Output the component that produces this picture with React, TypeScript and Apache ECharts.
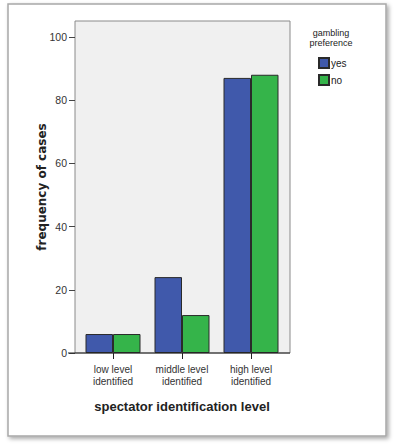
import React, { useEffect, useRef } from "react";
import * as echarts from "echarts";

const categories = ["low level\nidentified", "middle level\nidentified", "high level\nidentified"];
const yesValues = [6, 24, 87];
const noValues = [6, 12, 88];
const yTicks = [0, 20, 40, 60, 80, 100];
const seriesNames = ["yes", "no"];
const legendTitle = "gambling\npreference";
const xTitle = "spectator identification level";
const yTitle = "frequency of cases";

export default function App() {
  const ref = useRef<HTMLDivElement>(null);
  useEffect(() => {
    if (!ref.current) return;
    const chart = echarts.init(ref.current, null, { renderer: "svg" });
    const font = "'Liberation Sans Narrow', 'Liberation Sans', Arial, sans-serif";
    const option: any = {
      animation: false,
      backgroundColor: "#ffffff",
      textStyle: { fontFamily: font },
      graphic: [
        {
          type: "rect",
          z: -10,
          shape: { x: 8, y: 4, width: 378, height: 432 },
          style: {
            fill: "#ffffff",
            stroke: "#a8a8a8",
            lineWidth: 1.5,
            shadowBlur: 4,
            shadowOffsetX: 2,
            shadowOffsetY: 2,
            shadowColor: "rgba(0,0,0,0.35)",
          },
        },
        {
          type: "rect",
          z: -5,
          shape: { x: 75, y: 21, width: 215, height: 332 },
          style: { fill: "#f0f0f0", stroke: "#8a8a8a", lineWidth: 1 },
        },
        {
          type: "line",
          z: 10,
          shape: { x1: 68, y1: 353, x2: 290, y2: 353 },
          style: { stroke: "#222222", lineWidth: 1.2 },
        },
        {
          type: "text",
          x: 331,
          y: 28,
          style: {
            text: legendTitle,
            fontSize: 9,
            fontFamily: font,
            fill: "#222",
            align: "center",
            verticalAlign: "top",
            lineHeight: 10,
          },
        },
      ],
      legend: {
        data: seriesNames,
        orient: "vertical",
        left: 318,
        top: 57,
        itemWidth: 10,
        itemHeight: 10,
        itemGap: 5,
        icon: "rect",
        textStyle: { fontSize: 10, fontFamily: font, color: "#222", padding: [0, 0, 0, -3] },
        padding: 0,
      },
      grid: [
        { left: 75, top: 21, width: 215, height: 332, containLabel: false },
        { left: 78.5, top: 21, width: 207, height: 332, containLabel: false },
      ],
      xAxis: [
        {
          type: "category",
          gridIndex: 0,
          data: categories,
          show: false,
        },
        {
          type: "category",
          gridIndex: 1,
          data: categories,
          axisLine: { show: false },
          axisTick: { show: true, alignWithLabel: true, length: 6, lineStyle: { color: "#222" } },
          axisLabel: { interval: 0, hideOverlap: false, fontSize: 10, fontFamily: font, color: "#333", lineHeight: 12, margin: 10 },
          name: xTitle,
          nameLocation: "middle",
          nameGap: 47,
          nameTextStyle: { fontSize: 13, fontWeight: "bold", fontFamily: "'Liberation Sans', Arial, sans-serif", color: "#222" },
        },
      ],
      yAxis: [
        {
          type: "value",
          gridIndex: 0,
          min: 0,
          max: 105,
          splitLine: { show: false },
          axisLine: { show: false },
          axisTick: { show: true, length: 6, lineStyle: { color: "#444" }, customValues: yTicks },
          axisLabel: { fontSize: 10.5, fontFamily: font, color: "#333", margin: 8, customValues: yTicks },
          name: yTitle,
          nameLocation: "middle",
          nameGap: 27,
          nameMoveOverlap: false,
          nameTextStyle: { fontSize: 12, fontWeight: "bold", fontFamily: "'DejaVu Sans', Verdana, sans-serif", color: "#222" },
        },
        {
          type: "value",
          gridIndex: 1,
          min: 0,
          max: 105,
          show: false,
          splitLine: { show: false },
        },
      ],
      series: [
        {
          name: seriesNames[0],
          type: "bar",
          xAxisIndex: 1,
          yAxisIndex: 1,
          data: yesValues,
          barWidth: 27.5,
          barGap: "0%",
          itemStyle: { color: "#4059ab", borderColor: "#2a2a2a", borderWidth: 1 },
        },
        {
          name: seriesNames[1],
          type: "bar",
          xAxisIndex: 1,
          yAxisIndex: 1,
          data: noValues,
          barWidth: 27.5,
          barGap: "0%",
          itemStyle: { color: "#35b44a", borderColor: "#2a2a2a", borderWidth: 1 },
        },
      ],
    };
    chart.setOption(option);
    return () => chart.dispose();
  }, []);
  return (
    <div style={{ position: "fixed", left: 0, top: 0, width: 397, height: 448, background: "#fff" }}>
      <div ref={ref} style={{ width: 397, height: 448 }} />
    </div>
  );
}
